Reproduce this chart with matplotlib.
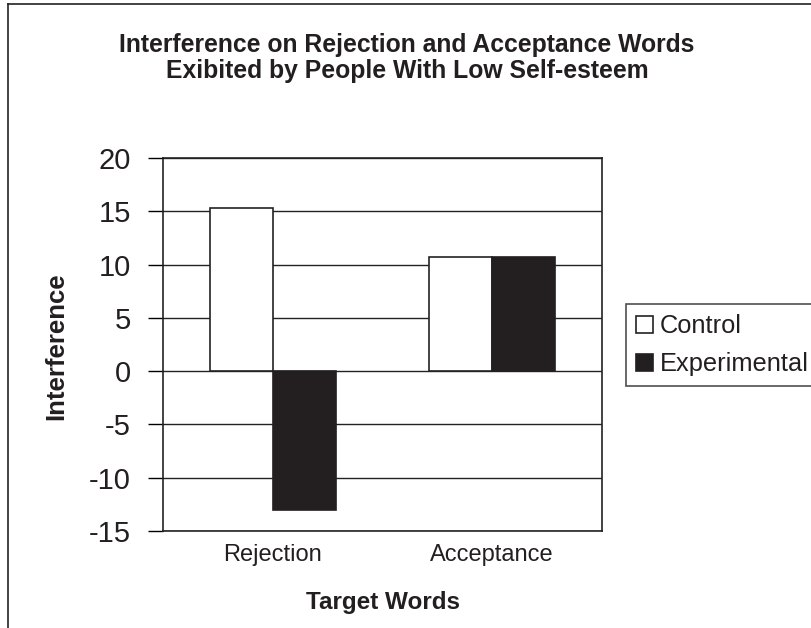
import numpy as np
import matplotlib.pyplot as plt
from matplotlib.lines import Line2D

plt.rcParams['font.family'] = ['Liberation Sans', 'DejaVu Sans']
plt.rcParams['axes.unicode_minus'] = False

# dados
categories = ['Rejection', 'Acceptance']
control = [15.3, 10.7]
experimental = [-13.0, 10.7]
series_names = ['Control', 'Experimental']

W, H = 812, 628
fig = plt.figure(figsize=(W / 100, H / 100), dpi=100)
ax = fig.add_axes([163 / W, 1 - 531 / H, 439 / W, 373 / H])

x = np.arange(len(categories))
bw = 0.287
ax.bar(x - bw / 2, control, bw, color='white', edgecolor='#222222', linewidth=1.2,
       label=series_names[0], zorder=3)
ax.bar(x + bw / 2, experimental, bw, color='#231f20', edgecolor='#231f20', linewidth=1.2,
       label=series_names[1], zorder=3)

ax.set_xlim(-0.5, 1.5)
ax.set_ylim(-15, 20)
ax.set_yticks(np.arange(-15, 21, 5))
ax.yaxis.grid(True, color='#222222', linewidth=1.0, zorder=0)
ax.set_axisbelow(True)
ax.tick_params(axis='y', direction='out', length=11, width=1.0, labelsize=21, pad=12,
               labelcolor='#231f20')
ax.set_xticks(x)
ax.set_xticklabels(categories)
ax.tick_params(axis='x', length=0, labelsize=17, pad=9, labelcolor='#231f20')
for s in ax.spines.values():
    s.set_linewidth(1.2)
    s.set_color('#222222')

ax.set_xlabel('Target Words', fontsize=17.5, fontweight='bold', color='#231f20')
ax.xaxis.set_label_coords(0.5, (531 - 603) / 373)
ax.xaxis.label.set_va('center')
ax.set_ylabel('Interference', fontsize=18.5, fontweight='bold', color='#231f20')
ax.yaxis.set_label_coords((56 - 163) / 439, (531 - 346) / 373)
ax.yaxis.label.set_va('center')

fig.text(407 / W, 1 - 52 / H, 'Interference on Rejection and Acceptance Words',
         ha='center', va='baseline', fontsize=17.8, fontweight='bold', color='#231f20')
fig.text(407 / W, 1 - 78 / H, 'Exibited by People With Low Self-esteem',
         ha='center', va='baseline', fontsize=17.8, fontweight='bold', color='#231f20')

leg = fig.legend(loc='upper left', bbox_to_anchor=(626 / W, 1 - 304 / H),
                 fontsize=18.3, frameon=True, fancybox=False, borderaxespad=0,
                 handlelength=0.68, handleheight=0.68, handletextpad=0.25,
                 borderpad=0.4, labelspacing=0.55)
leg.get_frame().set_edgecolor('#222222')
leg.get_frame().set_linewidth(1.2)
for t in leg.get_texts():
    t.set_color('#231f20')

# moldura externa da figura
fig.add_artist(Line2D([8 / W, 8 / W], [0, 1 - 4 / H], color='#222222', linewidth=1.2))
fig.add_artist(Line2D([8 / W, 1], [1 - 4 / H, 1 - 4 / H], color='#222222', linewidth=1.2))

fig.savefig('out.png', dpi=100)
